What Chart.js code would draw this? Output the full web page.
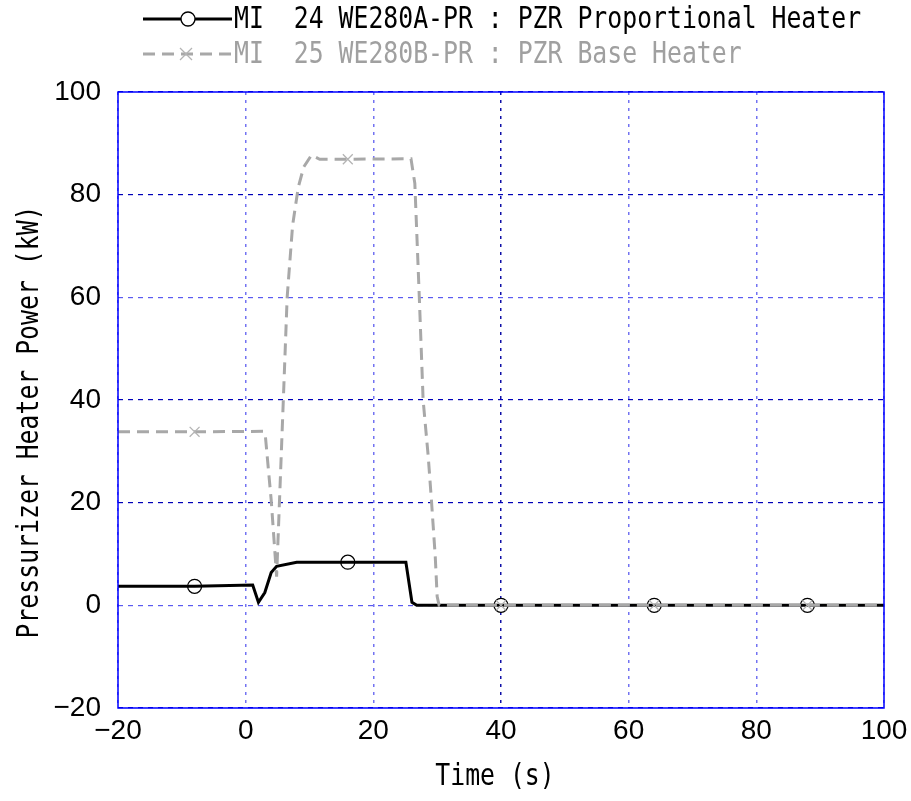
<!DOCTYPE html>
<html>
<head>
<meta charset="utf-8">
<script src="https://cdn.jsdelivr.net/npm/chart.js@4"></script>
<style>
  html, body { margin: 0; padding: 0; background: #fff; }
  #wrap { width: 911px; height: 801px; position: relative; }
</style>
</head>
<body>
<div id="wrap"><canvas id="heaterChart"></canvas></div>
<script>
// Proportional heater (MI 24)
const propTime  = [-20, -8, 1.1, 2.0, 3.0, 4.0, 4.85, 8.0, 16, 25.1, 26.05, 26.8, 40, 64, 88, 100];
const propPower = [3.7, 3.7, 3.95, 0.6, 2.5, 6.4, 7.6, 8.4, 8.4, 8.4, 0.6, 0, 0, 0, 0, 0];

// Base heater (MI 25)
const baseTime  = [-20, -8, 2.8, 3.1, 4.0, 4.85, 5.9, 6.5, 7.35, 8.25, 9.1, 10.3, 11.6, 16, 25.9,
                   26.5, 27.2, 27.8, 28.6, 29.1, 29.7, 30.0, 30.3, 40, 64, 88, 100];
const basePower = [33.8, 33.8, 33.9, 32.8, 20.5, 5.6, 40, 60, 74, 81.5, 85.4, 87.7, 86.9, 86.9, 87.0,
                   82.2, 60.1, 40, 29, 20.5, 9.5, 1.7, 0, 0, 0, 0, 0];

const markerTimes = [-8, 16, 40, 64, 88];

const seriesLabels = [
    'MI  24 WE280A-PR : PZR Proportional Heater',
    'MI  25 WE280B-PR : PZR Base Heater'
];
const xTitle = 'Time (s)';
const yTitle = 'Pressurizer Heater Power (kW)';

const toPoints = (xs, ys) => xs.map((x, i) => ({ x: x, y: ys[i] }));
const markerRadius = c => (c.raw && markerTimes.includes(c.raw.x)) ? 7 : 0;
const tickLabel = v => v < 0 ? '\u2212' + Math.abs(v) : String(v);

const MONO = '31px "DejaVu Sans Mono", monospace';
const SQUEEZE = 0.8;

function squeezedText(ctx, text, x, y, color, rotate) {
    ctx.save();
    ctx.translate(x, y);
    if (rotate) ctx.rotate(-Math.PI / 2);
    ctx.scale(SQUEEZE, 1);
    ctx.font = MONO;
    ctx.fillStyle = color;
    ctx.textBaseline = 'middle';
    ctx.textAlign = rotate === undefined ? 'left' : 'center';
    ctx.fillText(text, 0, 0);
    ctx.restore();
}

// frame, axis titles and legend drawn by hand (the plotting tool's style)
const decorations = {
    id: 'decorations',
    afterDraw(chart) {
        const { ctx, chartArea: a } = chart;
        ctx.save();
        ctx.strokeStyle = '#0000ff';
        ctx.lineWidth = 1.5;
        ctx.strokeRect(a.left, a.top, a.right - a.left, a.bottom - a.top);
        ctx.restore();

        squeezedText(ctx, xTitle, (a.left + a.right) / 2 - 6, 777, '#000', false);
        squeezedText(ctx, yTitle, 30, 422, '#000', true);

        // legend row 1
        ctx.save();
        ctx.strokeStyle = '#000';
        ctx.lineWidth = 3;
        ctx.beginPath(); ctx.moveTo(143, 19); ctx.lineTo(232, 19); ctx.stroke();
        ctx.lineWidth = 1.3;
        ctx.fillStyle = '#fff';
        ctx.beginPath(); ctx.arc(188, 19, 7, 0, Math.PI * 2); ctx.fill(); ctx.stroke();
        // legend row 2
        ctx.strokeStyle = '#a8a8a8';
        ctx.lineWidth = 3;
        ctx.setLineDash([12, 7]);
        ctx.beginPath(); ctx.moveTo(143, 54); ctx.lineTo(232, 54); ctx.stroke();
        ctx.setLineDash([]);
        ctx.strokeStyle = '#b4b4b4';
        ctx.lineWidth = 1.3;
        ctx.beginPath();
        ctx.moveTo(180, 48); ctx.lineTo(192, 60);
        ctx.moveTo(192, 48); ctx.lineTo(180, 60);
        ctx.stroke();
        ctx.restore();

        squeezedText(ctx, seriesLabels[0], 234, 20, '#000');
        squeezedText(ctx, seriesLabels[1], 234, 55, '#a0a0a0');
    }
};

new Chart(document.getElementById('heaterChart'), {
    type: 'line',
    data: {
        datasets: [{
            label: seriesLabels[0],
            data: toPoints(propTime, propPower),
            order: 2,
            borderColor: '#000000',
            borderWidth: 3,
            tension: 0,
            pointStyle: 'circle',
            pointRadius: markerRadius,
            pointBorderColor: '#000000',
            pointBackgroundColor: 'rgba(0,0,0,0)',
            pointBorderWidth: 1.3
        }, {
            label: seriesLabels[1],
            data: toPoints(baseTime, basePower),
            order: 1,   // base heater sits on top of the black line
            borderColor: '#a8a8a8',
            borderWidth: 3,
            borderDash: [12, 7],
            tension: 0,
            pointStyle: 'crossRot',
            pointRadius: markerRadius,
            pointBorderColor: '#b4b4b4',
            pointBorderWidth: 1.3
        }]
    },
    options: {
        responsive: true,
        maintainAspectRatio: false,
        animation: false,
        events: [],
        layout: { padding: { top: 92, right: 27, left: 0, bottom: 0 } },
        plugins: {
            legend: { display: false },
            tooltip: { enabled: false }
        },
        scales: {
            x: {
                type: 'linear',
                min: -20,
                max: 100,
                afterFit: s => { s.height = 93; s.paddingLeft = 0; s.paddingRight = 0; },
                ticks: {
                    stepSize: 20,
                    padding: 6,
                    color: '#000',
                    font: { family: '"Liberation Sans", Arial', size: 28 },
                    callback: tickLabel
                },
                grid: {
                    drawTicks: false,
                    lineWidth: 1.5,
                    color: c => (c.tick && c.tick.value === 40) ? '#1010a8' : '#7373f2'
                },
                border: { display: false, dash: [3, 5] }
            },
            y: {
                min: -20,
                max: 100,
                afterFit: s => { s.width = 118; },
                ticks: {
                    stepSize: 20,
                    padding: 17,
                    color: '#000',
                    font: { family: '"Liberation Sans", Arial', size: 28 },
                    callback: tickLabel
                },
                grid: {
                    drawTicks: false,
                    lineWidth: 1.2,
                    color: c => (c.tick && (c.tick.value === 60 || c.tick.value === 0)) ? '#5a5af0' : '#0000b8'
                },
                border: { display: false, dash: [5, 5] }
            }
        }
    },
    plugins: [decorations]
});
</script>
</body>
</html>
